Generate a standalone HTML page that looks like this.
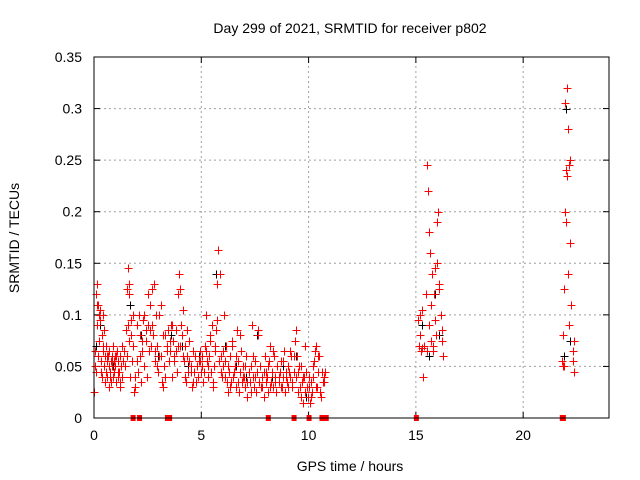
<!DOCTYPE html>
<html><head><meta charset="utf-8"><style>
body{margin:0;background:#fff;}
svg{display:block;font-family:"Liberation Sans",sans-serif;}
</style></head><body>
<svg id="chart" width="640" height="480" viewBox="0 0 640 480">
<rect width="640" height="480" fill="#fff"/>
<text x="350" y="33" font-size="14" text-anchor="middle">Day 299 of 2021, SRMTID for receiver p802</text>
<text transform="translate(19,238) rotate(-90)" font-size="14" text-anchor="middle">SRMTID / TECUs</text>
<text x="350" y="471" font-size="14" text-anchor="middle">GPS time / hours</text>
<g id="grid"></g>
<g id="ticks"></g>
<g id="marks"></g>
<rect x="94" y="57" width="515" height="361" fill="none" stroke="#000" stroke-width="1"/>
</svg>
<script>
const xTicks=[0,5,10,15,20];
const xTickLabels=["0","5","10","15","20"];
const yTicks=[0,0.05,0.1,0.15,0.2,0.25,0.3,0.35];
const yTickLabels=["0","0.05","0.1","0.15","0.2","0.25","0.3","0.35"];
const redTimes=[0.02,0.05,0.08,0.1,0.12,0.15,0.18,0.2,0.22,0.25,0.28,0.3,0.32,0.35,0.38,0.4,0.42,0.45,0.48,0.5,0.52,0.55,0.58,0.6,0.62,0.65,0.68,0.7,0.72,0.75,0.78,0.8,0.82,0.85,0.88,0.9,0.92,0.95,0.98,1.0,
1.02,1.05,1.1,1.12,1.15,1.2,1.22,1.25,1.3,1.35,1.4,1.45,1.5,1.55,1.58,1.6,1.62,1.65,1.7,1.72,1.75,1.8,1.85,1.9,
2.0,2.05,2.1,2.15,2.2,2.25,2.3,2.35,2.4,2.45,2.5,2.55,2.6,2.65,2.7,2.75,2.8,2.85,2.9,2.95,3.0,3.05,3.1,3.15,3.2,3.25,3.3,
3.4,3.45,3.5,3.55,3.6,3.65,3.7,3.75,3.8,3.85,3.9,3.95,4.0,4.05,4.1,4.15,4.2,4.25,4.3,4.35,4.4,4.45,4.5,4.55,4.6,
4.65,4.7,4.75,4.8,4.85,4.9,4.95,5.0,5.05,5.1,5.15,5.2,5.25,5.3,5.35,5.4,5.45,5.5,5.55,5.6,5.65,5.7,5.75,5.8,5.85,5.9,5.95,6.0,6.05,6.1,6.15,6.2,
6.25,6.3,6.35,6.4,6.45,6.5,6.55,6.6,6.65,6.7,6.75,6.8,6.85,6.9,6.95,7.0,7.05,7.1,7.15,7.2,7.25,7.3,7.35,7.4,7.45,7.5,7.55,7.6,7.65,7.7,7.75,7.8,7.85,7.9,7.95,8.0,
8.05,8.1,8.15,8.2,8.25,8.3,8.35,8.4,8.45,8.5,8.55,8.6,8.65,8.7,8.75,8.8,8.85,8.9,8.95,9.0,9.05,9.1,9.15,9.2,9.25,9.3,9.35,9.4,9.45,9.5,
9.55,9.6,9.65,9.7,9.75,9.8,9.85,9.9,9.95,10.0,10.05,10.1,10.15,10.2,10.25,10.3,10.35,10.4,10.45,10.5,10.55,10.6,10.65,10.7,10.75,
15.1,15.15,15.2,15.25,15.3,15.35,15.4,15.45,15.5,15.55,15.6,15.65,15.7,15.75,15.8,15.85,15.9,15.95,16.0,16.05,16.1,16.15,16.2,16.25,15.2,15.3,15.4,15.5,15.6,15.7,15.8,15.9,16.0,16.1,16.2,
21.8,21.85,21.9,21.95,22.0,22.05,22.1,22.15,22.2,22.25,22.3,22.35,21.85,21.9,22.0,22.1,22.2,22.3,22.35,22.15,21.95,22.05];
const redValues=[.025,.065,.045,.12,.09,.13,.06,.11,.1,.075,.095,.105,.055,.08,.04,.1,.065,.05,.085,.035,.06,.07,.045,.055,.04,.06,.03,.05,.065,.045,.055,.035,.06,.05,.07,.04,.055,.045,.06,.05,
.035,.065,.04,.055,.045,.03,.06,.05,.04,.055,.065,.05,.085,.125,.145,.09,.12,.075,.04,.08,.055,.1,.025,.03,
.09,.045,.1,.06,.035,.075,.095,.05,.085,.04,.09,.065,.11,.07,.125,.08,.13,.055,.1,.07,.045,.06,.11,.035,.08,.05,.04,
.07,.085,.055,.065,.09,.04,.075,.06,.085,.045,.07,.14,.125,.09,.08,.105,.055,.07,.035,.06,.045,.075,.05,.03,.065,
.045,.06,.035,.05,.04,.055,.065,.045,.05,.035,.07,.1,.055,.04,.06,.075,.045,.09,.03,.05,.065,.085,.13,.163,.14,.06,.04,.05,.1,.055,.07,.035,
.025,.045,.06,.035,.075,.04,.05,.03,.085,.055,.025,.045,.065,.035,.05,.04,.03,.06,.02,.045,.035,.05,.09,.04,.03,.055,.025,.045,.085,.035,.05,.03,.04,.02,.06,.035,
.04,.025,.055,.07,.035,.045,.03,.06,.04,.025,.05,.035,.045,.055,.03,.04,.065,.025,.045,.035,.03,.045,.04,.06,.035,.045,.075,.085,.06,.045,
.05,.03,.02,.035,.015,.04,.025,.045,.02,.03,.015,.035,.025,.04,.055,.065,.07,.03,.045,.06,.025,.02,.035,.04,.045,
.095,.07,.08,.065,.105,.04,.07,.12,.245,.22,.18,.16,.075,.14,.065,.12,.145,.08,.19,.2,.13,.1,.085,.06,.1,.068,.07,.065,.09,.11,.07,.095,.15,.125,.075,
.055,.05,.125,.2,.24,.32,.28,.245,.17,.11,.065,.045,.08,.05,.19,.14,.25,.055,.075,.09,.305,.235];
const extraTimes=[0.025,0.125,0.225,0.325,0.425,0.525,0.625,0.725,0.825,0.925,
1.025,1.125,1.225,1.325,1.425,1.525,1.625,1.725,1.825,1.925,
2.025,2.125,2.225,2.325,2.425,2.525,2.625,2.725,2.825,2.925,
3.025,3.125,3.225,3.325,3.425,3.525,3.625,3.725,3.825,3.925,
4.025,4.125,4.225,4.325,4.425,4.525,4.625,4.725,4.825,4.925,
5.025,5.125,5.225,5.325,5.425,5.525,5.625,5.725,5.825,5.925,
6.025,6.125,6.225,6.325,6.425,6.525,6.625,6.725,6.825,6.925,
7.025,7.125,7.225,7.325,7.425,7.525,7.625,7.725,7.825,7.925,
8.025,8.125,8.225,8.325,8.425,8.525,8.625,8.725,8.825,8.925,
9.025,9.125,9.225,9.325,9.425,9.525,9.625,9.725,9.825,9.925,
10.025,10.125,10.225,10.325,10.425,10.525,10.625,10.725];
const extraValues=[.05,.11,.1,.045,.07,.035,.06,.04,.055,.045,
.06,.045,.035,.07,.05,.06,.13,.095,.07,.04,
.055,.08,.065,.1,.075,.12,.085,.09,.065,.05,
.1,.06,.03,.08,.065,.075,.09,.055,.065,.12,
.07,.06,.04,.085,.055,.045,.035,.06,.04,.055,
.06,.045,.065,.05,.08,.035,.07,.095,.055,.045,
.065,.04,.05,.03,.07,.045,.06,.035,.08,.04,
.05,.035,.045,.025,.06,.04,.08,.05,.03,.045,
.045,.05,.03,.065,.035,.05,.04,.03,.055,.04,
.05,.065,.03,.06,.04,.025,.05,.04,.07,.03,
.04,.02,.05,.03,.06,.025,.045,.035];
const blackTimes=[0.1,0.3,0.6,0.9,1.3,1.7,2.2,2.6,3.0,3.6,4.1,4.4,4.9,5.3,5.7,6.1,6.6,7.1,7.6,8.3,8.8,9.4,9.9,10.4,15.3,15.6,15.9,16.1,21.9,22.0,22.2];
const blackValues=[.07,.09,.06,.05,.07,.11,.08,.11,.06,.08,.07,.05,.06,.05,.14,.07,.05,.04,.08,.04,.05,.06,.02,.03,.09,.06,.12,.08,.06,.3,.075];
const zeroTimes=[1.8,2.1,3.4,3.5,8.1,9.3,10.0,10.6,10.7,10.8,15.0,21.8,21.85];

const X0=94,X1=609,Y0=418,Y1=57,XMAX=24,YMAX=0.35;
const sx=t=>X0+t/XMAX*(X1-X0);
const sy=v=>Y0-v/YMAX*(Y0-Y1);
const NS="http://www.w3.org/2000/svg";
function mk(tag,attrs,parent){const e=document.createElementNS(NS,tag);for(const k in attrs)e.setAttribute(k,attrs[k]);parent.appendChild(e);return e;}
const grid=document.getElementById('grid'),ticks=document.getElementById('ticks'),marks=document.getElementById('marks');
xTicks.forEach((t,i)=>{
  const x=sx(t);
  if(t>0){const g=mk('line',{x1:x,x2:x,y1:Y0,y2:Y1,stroke:'#a0a0a0','stroke-dasharray':'2,3'},grid);
  
  }
  mk('line',{x1:x,x2:x,y1:Y0,y2:Y0-6,stroke:'#000'},ticks);
  mk('line',{x1:x,x2:x,y1:Y1,y2:Y1+6,stroke:'#000'},ticks);
  const l=mk('text',{x:x,y:Y0+22,'font-size':14,'text-anchor':'middle'},ticks);
  l.textContent=xTickLabels[i];
  
  
});
yTicks.forEach((v,i)=>{
  const y=sy(v);
  if(v>0&&v<YMAX){const g=mk('line',{x1:X0,x2:X1,y1:y,y2:y,stroke:'#a0a0a0','stroke-dasharray':'2,3'},grid);
  
  }
  mk('line',{x1:X0,x2:X0+6,y1:y,y2:y,stroke:'#000'},ticks);
  mk('line',{x1:X1,x2:X1-6,y1:y,y2:y,stroke:'#000'},ticks);
  const l=mk('text',{x:X0-12,y:y+5,'font-size':14,'text-anchor':'end'},ticks);
  l.textContent=yTickLabels[i];
  
  
});
function plus(t,v,col,name){
  const x=Math.round(sx(t))+0.5,y=Math.round(sy(v))+0.5;
  const p=mk('path',{d:`M${x-4} ${y}H${x+4}M${x} ${y-4}V${y+4}`,stroke:col,'stroke-width':1,fill:'none'},marks);
  
  
}
blackTimes.forEach((t,i)=>plus(t,blackValues[i],'#000','black-point'));
redTimes.forEach((t,i)=>plus(t,redValues[i],'#ff0000','red-point'));
extraTimes.forEach((t,i)=>plus(t,extraValues[i],'#ff0000','red-point'));
zeroTimes.forEach(t=>{
  const r=mk('rect',{x:sx(t)-2,y:Y0-3,width:5,height:6,fill:'#ff0000'},marks);
  
  
});
</script>
</body></html>
